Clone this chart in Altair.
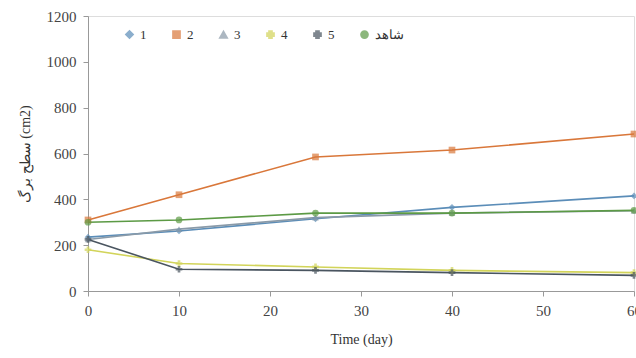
import altair as alt
import pandas as pd

days = [0, 10, 25, 40, 60]
series_names = ["1", "2", "3", "4", "5", "شاهد"]
s1 = [235, 262, 315, 365, 415]
s2 = [310, 420, 585, 615, 685]
s3 = [225, 270, 320, 340, 350]
s4 = [180, 120, 105, 90, 80]
s5 = [225, 95, 90, 80, 68]
s6 = [300, 310, 340, 340, 352]
colors = ["#5b8db8", "#d9773a", "#8a9aa8", "#d2d45a", "#4a5560", "#5c9a45"]
shapes = ["diamond", "square", "triangle-up", "cross", "cross", "circle"]

rows = []
for name, vals in zip(series_names, [s1, s2, s3, s4, s5, s6]):
    for d, v in zip(days, vals):
        rows.append({"day": d, "area": v, "series": name})
df = pd.DataFrame(rows)

font = "Liberation Serif"
x = alt.X("day:Q", scale=alt.Scale(domain=[0, 60], nice=False),
          axis=alt.Axis(title="Time (day)", values=[0, 10, 20, 30, 40, 50, 60], format="d",
                        labelFont=font, titleFont=font,
                        tickSize=5, labelPadding=7, titlePadding=14, labelFlush=False))
y = alt.Y("area:Q", scale=alt.Scale(domain=[0, 1200], nice=False),
          axis=alt.Axis(title="سطح برگ (cm2)", values=[0, 200, 400, 600, 800, 1000, 1200],
                        labelFont=font, titleFont=font,
                        format="d", tickSize=5, labelPadding=7, titlePadding=14))
color = alt.Color("series:N", scale=alt.Scale(domain=series_names, range=colors),
                  legend=alt.Legend(title=None, orient="none", legendX=35, legendY=12,
                                    direction="horizontal", labelFont=font, labelFontSize=13,
                                    labelColor="#333", symbolSize=45, columnPadding=22,
                                    symbolStrokeWidth=2))
shape = alt.Shape("series:N", scale=alt.Scale(domain=series_names, range=shapes), legend=None)

lines = alt.Chart(df).mark_line(strokeWidth=1.6).encode(x=x, y=y, color=color)
points = alt.Chart(df).mark_point(filled=True, size=45).encode(x=x, y=y, color=color, shape=shape)

chart = (lines + points).properties(
    width=546, height=275,
    autosize=alt.AutoSizeParams(type="none"),
    padding={"left": 88, "top": 16, "right": 2, "bottom": 67},
).configure_view(stroke="#999", strokeWidth=1.5).configure(
    background="white", font=font
).configure_axis(
    grid=False, labelFont=font, titleFont=font, labelFontSize=15, titleFontSize=14,
    titleFontWeight="normal", labelColor="#444", titleColor="#333",
    domainColor="#999", tickColor="#999"
)

chart.save("out.html", embed_options={"renderer": "svg", "actions": False})
